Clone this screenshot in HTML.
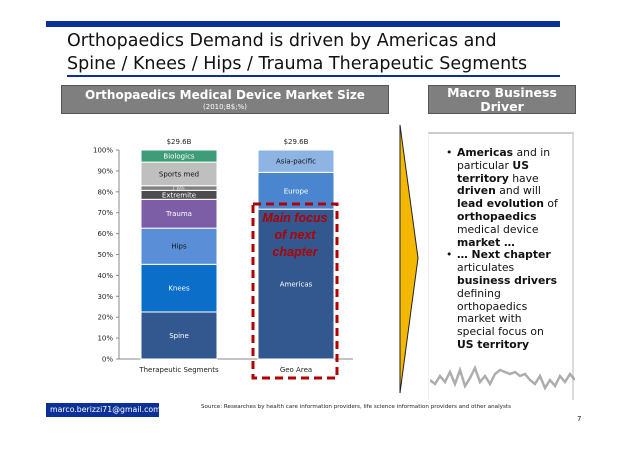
<!DOCTYPE html>
<html><head><meta charset="utf-8">
<style>
body{margin:0;width:638px;height:451px;background:#fff;position:relative;overflow:hidden;font-family:"DejaVu Sans","Liberation Sans",sans-serif;}
.abs{position:absolute;}
.hdr{background:#7f7f7f;border:1px solid #555;color:#fff;font-weight:bold;text-align:center;box-sizing:border-box;}
</style></head><body>
<div class="abs" style="left:46px;top:21px;width:514px;height:6px;background:#0b3199"></div>
<div class="abs" style="left:67px;top:30px;font-size:17.5px;line-height:23px;color:#111;">Orthopaedics Demand is driven by Americas and<br>Spine / Knees / Hips / Trauma Therapeutic Segments</div>
<div class="abs" style="left:67px;top:75px;width:493px;height:2px;background:#0b3199"></div>
<div class="abs hdr" style="left:61px;top:85px;width:328px;height:29px;font-size:12px;padding-top:2px;">Orthopaedics Medical Device Market Size<div style="font-size:7px;font-weight:normal;margin-top:1px">(2010;B$;%)</div></div>
<div class="abs hdr" style="left:428px;top:85px;width:148px;height:29px;font-size:12.5px;line-height:14px;">Macro Business<br>Driver</div>
<svg class="abs" style="left:0;top:0" width="638" height="451">
<g id="chart"></g>
<polygon points="400,125 418,258 400,393" fill="#f5b800" stroke="#222" stroke-width="1"/>
<rect x="253" y="204" width="84" height="174" fill="none" stroke="#b00000" stroke-width="3" stroke-dasharray="8,5"/>
<text x="295" y="222" text-anchor="middle" font-size="12.5" font-style="italic" font-weight="bold" fill="#b00000" font-family="Liberation Sans,sans-serif"><tspan x="295">Main focus</tspan><tspan x="295" dy="17">of next</tspan><tspan x="295" dy="17">chapter</tspan></text>
</svg>
<div class="abs" style="left:428px;top:132px;width:146px;height:268px;border-top:2px solid #ccc;border-right:2px solid #ddd;border-left:1px solid #eee;box-sizing:border-box;"></div>
<div class="abs" style="left:446px;top:147px;width:112px;font-size:10.8px;line-height:12.8px;color:#111;">
<div style="position:relative;padding-left:11px"><span style="position:absolute;left:0">•</span><b>Americas</b> and in particular <b>US territory</b> have <b>driven</b> and will <b>lead evolution</b> of <b>orthopaedics</b> medical device <b>market …</b></div>
<div style="position:relative;padding-left:11px"><span style="position:absolute;left:0">•</span><b>… Next chapter</b> articulates <b>business drivers</b> defining orthopaedics market with special focus on <b>US territory</b></div></div>
<svg class="abs" style="left:430px;top:362px" width="145" height="32"><polyline points="0,18 5,22 10,14 15,20 20,10 25,22 30,8 35,24 40,16 45,6 50,20 55,14 60,22 65,12 70,8 75,10 80,12 85,10 90,14 95,12 100,18 105,22 110,14 115,26 120,18 125,24 130,14 135,20 140,12 145,18" fill="none" stroke="#999" stroke-width="2.5" opacity="0.8"/></svg>
<div class="abs" style="left:46px;top:403px;width:113px;height:14px;background:#0b3199;color:#fff;font-size:7.8px;line-height:14px;padding-left:4px;box-sizing:border-box;white-space:nowrap;overflow:hidden;">marco.berizzi71@gmail.com</div>
<div class="abs" style="left:201px;top:404px;font-size:5.6px;color:#222;">Source: Researches by health care information providers, life science information providers and other analysts</div>
<div class="abs" style="left:577px;top:415px;font-size:7px;color:#222;">7</div>
<script>
const categories=["Therapeutic Segments","Geo Area"];
const totals=["$29.6B","$29.6B"];
const segNames1=["Spine","Knees","Hips","Trauma","Extremite","CMF","Sports med","Biologics"];
const segValues1=[22.5,22.8,17.3,13.8,4.3,2.2,11.3,5.8];
const segColors1=["#33588f","#0b6ec9","#5a8fd8","#7c5ea6","#4d4d4d","#7f7f7f","#bfbfbf","#3f9c78"];
const segText1=["#fff","#fff","#111","#fff","#fff","#ddd","#111","#fff"];
const segNames2=["Americas","Europe","Asia-pacific"];
const segValues2=[71.7,17.6,10.7];
const segColors2=["#33588f","#4a86d0","#8eb4e3"];
const segText2=["#fff","#fff","#111"];
const yTicks=[0,10,20,30,40,50,60,70,80,90,100];
const NS="http://www.w3.org/2000/svg";
const g=document.getElementById("chart");
const y0=359,y1=150,xAxis=119,xEnd=353;
const yScale=v=>y0-(v/100)*(y0-y1);
const barX=[141,258],barW=76;
function mk(t,a,txt){const e=document.createElementNS(NS,t);for(const k in a)e.setAttribute(k,a[k]);if(txt!==undefined)e.textContent=txt;g.appendChild(e);return e;}
const ax=mk("line",{x1:xAxis,y1:y1,x2:xAxis,y2:y0,stroke:"#888"});


const bx=mk("line",{x1:xAxis,y1:y0,x2:xEnd,y2:y0,stroke:"#888"});


yTicks.forEach(t=>{
  const l=mk("text",{x:xAxis-6,y:yScale(t)+2.5,"text-anchor":"end","font-size":"7","font-family":"DejaVu Sans,sans-serif",fill:"#222"},t+"%");
  
  
  mk("line",{x1:xAxis-3,y1:yScale(t),x2:xAxis,y2:yScale(t),stroke:"#888"});
});
function drawBar(i,names,vals,cols,tcols){
  let acc=0;
  vals.forEach((v,j)=>{
    const top=yScale(acc+v),bot=yScale(acc);
    const r=mk("rect",{x:barX[i],y:top,width:barW,height:bot-top,fill:cols[j],stroke:"#fff","stroke-width":"1"});
    
    
    const fs=(bot-top)<7?6:7;
    const t=mk("text",{x:barX[i]+barW/2,y:(top+bot)/2+2.5,"text-anchor":"middle","font-size":fs,"font-family":"DejaVu Sans,sans-serif",fill:tcols[j]},names[j]);
    
    
    acc+=v;
  });
  const tt=mk("text",{x:barX[i]+barW/2,y:y1-6,"text-anchor":"middle","font-size":"7","font-family":"DejaVu Sans,sans-serif",fill:"#222"},totals[i]);
  
  
  const c=mk("text",{x:barX[i]+barW/2,y:y0+13,"text-anchor":"middle","font-size":"7","font-family":"DejaVu Sans,sans-serif",fill:"#222"},categories[i]);
  
  
}
drawBar(0,segNames1,segValues1,segColors1,segText1);
drawBar(1,segNames2,segValues2,segColors2,segText2);
</script>
</body></html>
